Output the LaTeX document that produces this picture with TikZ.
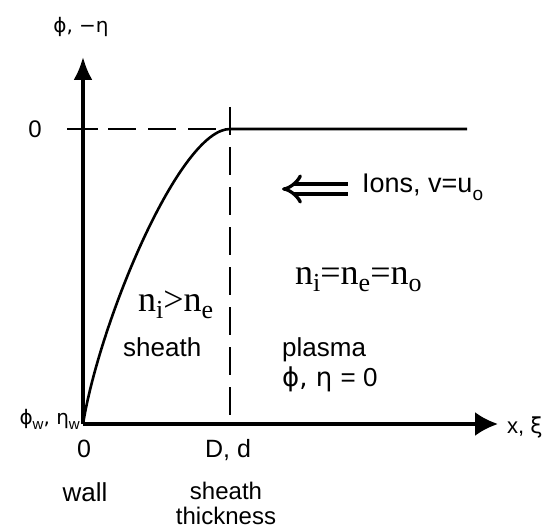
\documentclass[tikz,border=0pt]{standalone}
\usepackage{fontspec}
\setmainfont{Liberation Sans}
\newfontfamily\gk{DejaVu Sans}
\newfontfamily\tms{Liberation Serif}
\usetikzlibrary{arrows.meta}
\newcommand\subsc[3]{\raisebox{-#2pt}{\fontsize{#1}{#1}\selectfont #3}}
\begin{document}
\begin{tikzpicture}[x=1pt,y=-1pt,
  axis/.style={line width=3.2pt},
  dline/.style={line width=2.4pt, dash pattern=on 28pt off 12pt},
  lbl/.style={inner sep=0pt, font=\fontsize{26}{26}\selectfont},
  small/.style={inner sep=0pt, font=\fontsize{20}{20}\selectfont},
  serif/.style={inner sep=0pt, font=\tms\fontsize{36}{36}\selectfont}]
\useasboundingbox (0,0) rectangle (554,532);
% coordinates
\coordinate (O) at (83,424);
\coordinate (ytip) at (83,57);
\coordinate (xtip) at (498,424);
\coordinate (tickL) at (67,129);
\coordinate (tickR) at (98,129);
\coordinate (hdA) at (108,129);
\coordinate (hdB) at (222,129);
\coordinate (P) at (230,129);
\coordinate (vTop) at (230,107);
\coordinate (vBot) at (230,424);
\coordinate (lineEnd) at (467,129);
\coordinate (ionL) at (282,189);
\coordinate (ionR) at (348,189);
% axes
\draw[axis, -{Latex[length=23pt,width=19pt]}] (O) -- (ytip);
\draw[axis, -{Latex[length=23pt,width=24pt]}] (O) -- (xtip);
\draw[line width=2.6pt] (tickL) -- (tickR);
% dashed lines
\draw[dline] (hdA) -- (hdB);
\draw[dline] (vTop) -- (vBot);
% curve and plateau
\draw[line width=2.6pt] (O) .. controls (100,320) and (180,129) .. (P) -- (lineEnd);
% ion arrow
\draw[line width=3.3pt, double distance=6.5pt, {Implies}-] (ionL) -- (ionR);
% labels
\node[small] (ylab) at (81,27) {\gk ϕ, −η};
\node[inner sep=0pt, font=\fontsize{24}{24}\selectfont] (zero) at (35,129) {0};
\node[small, anchor=base east] (phiw) at (80,424) {\gk ϕ\subsc{15}{5}{\rmfamily w}, η\subsc{15}{5}{\rmfamily w}};
\node[lbl, font=\fontsize{25}{25}\selectfont, anchor=base] (orig) at (84,457) {0};
\node[lbl, font=\fontsize{25}{25}\selectfont, anchor=base] (Dd) at (228,457) {D, d};
\node[lbl, anchor=base] (wall) at (85,501) {wall};
\node[lbl, font=\fontsize{24}{25}\selectfont, align=center, anchor=base] (sth) at (226,524) {sheath\\thickness};
\node[small, font=\fontsize{22}{22}\selectfont, anchor=base west] (xlab) at (507,433) {x, \gk ξ};
\node[lbl, font=\fontsize{27}{27}\selectfont, anchor=base west] (ions) at (362,192) {Ions, v=u\subsc{19}{8}{o}};
\node[serif, anchor=base west] (neq) at (295,284) {n\subsc{26}{7}{i}=n\subsc{26}{7}{e}=n\subsc{26}{7}{o}};
\node[serif, anchor=base west] (ngt) at (138,311) {n\subsc{26}{7}{i}>n\subsc{26}{7}{e}};
\node[lbl, anchor=base west] (sheath) at (123,356) {sheath};
\node[lbl, anchor=base west] (plasma) at (282,356) {plasma};
\node[lbl, anchor=base west] (phieta) at (282,386) {\gk ϕ, η \rmfamily= 0};
\end{tikzpicture}
\end{document}
